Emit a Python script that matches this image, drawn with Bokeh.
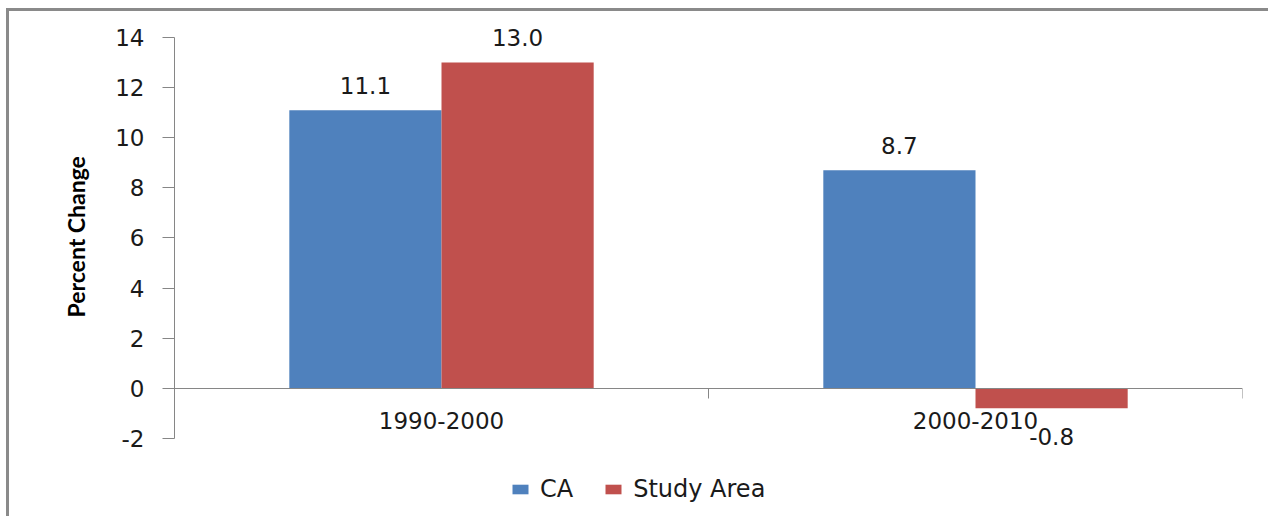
from bokeh.plotting import figure
from bokeh.models import (FactorRange, Range1d, LinearAxis, FixedTicker, ColumnDataSource,
                          Legend, LegendItem, CategoricalAxis, Title)
from bokeh.transform import dodge
from bokeh.core.properties import value
from bokeh.embed import file_html
from bokeh.resources import INLINE

periods = ["1990-2000", "2000-2010"]
ca_values = [11.1, 8.7]
study_values = [13.0, -0.8]
series_names = ["CA", "Study Area"]
y_ticks = [-2, 0, 2, 4, 6, 8, 10, 12, 14]
y_title = "Percent Change"

BLUE = "#4F81BD"
RED = "#C0504D"
AXIS = "#868686"
FONT = "DejaVu Sans"
FS = "23px"

p = figure(x_range=FactorRange(*periods, range_padding=0), y_range=Range1d(-5, 15),
           width=1262, height=508, output_backend="svg", toolbar_location=None,
           x_axis_location=None, min_border_left=165, min_border_right=29,
           min_border_top=1, min_border_bottom=6)
p.styles = {"border-top": "3px solid #8a8a8a", "border-left": "3px solid #8a8a8a",
            "margin-left": "6px", "margin-top": "8px"}
p.outline_line_color = None
p.xgrid.grid_line_color = None
p.ygrid.grid_line_color = None

src = ColumnDataSource(dict(period=periods, ca=ca_values, study=study_values,
                            ca_lbl=["%.1f" % v for v in ca_values],
                            st_lbl=["%.1f" % v for v in study_values],
                            ca_off=[-25 if v >= 0 else 28 for v in ca_values],
                            st_off=[-25 if v >= 0 else 28 for v in study_values]))

bw = 0.285
r1 = p.vbar(x=dodge("period", -bw / 2, range=p.x_range), top="ca", bottom=0, width=bw,
            source=src, fill_color=BLUE, line_color=None)
r2 = p.vbar(x=dodge("period", bw / 2, range=p.x_range), top="study", bottom=0, width=bw,
            source=src, fill_color=RED, line_color=None)

for col, lbl, off, dx in (("ca", "ca_lbl", "ca_off", -bw / 2), ("study", "st_lbl", "st_off", bw / 2)):
    p.text(x=dodge("period", dx, range=p.x_range), y=col, text=lbl, y_offset=off, source=src,
           text_align="center", text_baseline="middle", text_font=value(FONT),
           text_font_size=FS, text_color="#1a1a1a")

# y axis (drawn only between -2 and 14)
ya = p.yaxis[0]
ya.bounds = (y_ticks[0], y_ticks[-1])
ya.ticker = FixedTicker(ticks=y_ticks)
ya.major_label_overrides = {t: str(t) for t in y_ticks}
ya.axis_line_color = AXIS
ya.major_tick_line_color = AXIS
ya.major_tick_out = 12
ya.major_tick_in = 0
ya.minor_tick_line_color = None
ya.major_label_standoff = 18
ya.major_label_text_font = FONT
ya.major_label_text_font_size = FS
ya.major_label_text_color = "#1a1a1a"

# y title, positioned along the bounded axis
p.add_layout(Title(text=y_title, align="left", offset=196, standoff=46,
                   text_font="Lato", text_font_style="bold", text_font_size="23px",
                   text_color="#000000"), "left")

# category axis at y = 0 (line + ticks at category boundaries)
tick_axis = LinearAxis(ticker=FixedTicker(ticks=[1, 2]),
                       fixed_location=0, axis_line_color=AXIS, major_tick_line_color=AXIS,
                       major_tick_out=10, major_tick_in=0, minor_tick_line_color=None,
                       major_label_overrides={1: "", 2: ""})
p.add_layout(tick_axis, "below")
cat_axis = CategoricalAxis(fixed_location=0, axis_line_color=None, major_tick_line_color=None,
                           major_label_standoff=18, major_label_text_font=FONT,
                           major_label_text_font_size=FS, major_label_text_color="#1a1a1a")
p.add_layout(cat_axis, "below")

legend = Legend(items=[LegendItem(label=series_names[0], renderers=[r1]),
                       LegendItem(label=series_names[1], renderers=[r2])],
                orientation="horizontal", location=(336, 10),
                glyph_width=20, glyph_height=12, label_standoff=10, spacing=30,
                padding=0, margin=0, border_line_color=None, background_fill_alpha=0,
                label_text_font=FONT, label_text_font_size="24px", label_text_color="#1a1a1a")
p.add_layout(legend)

open("out.html", "w").write(file_html(p, INLINE))
